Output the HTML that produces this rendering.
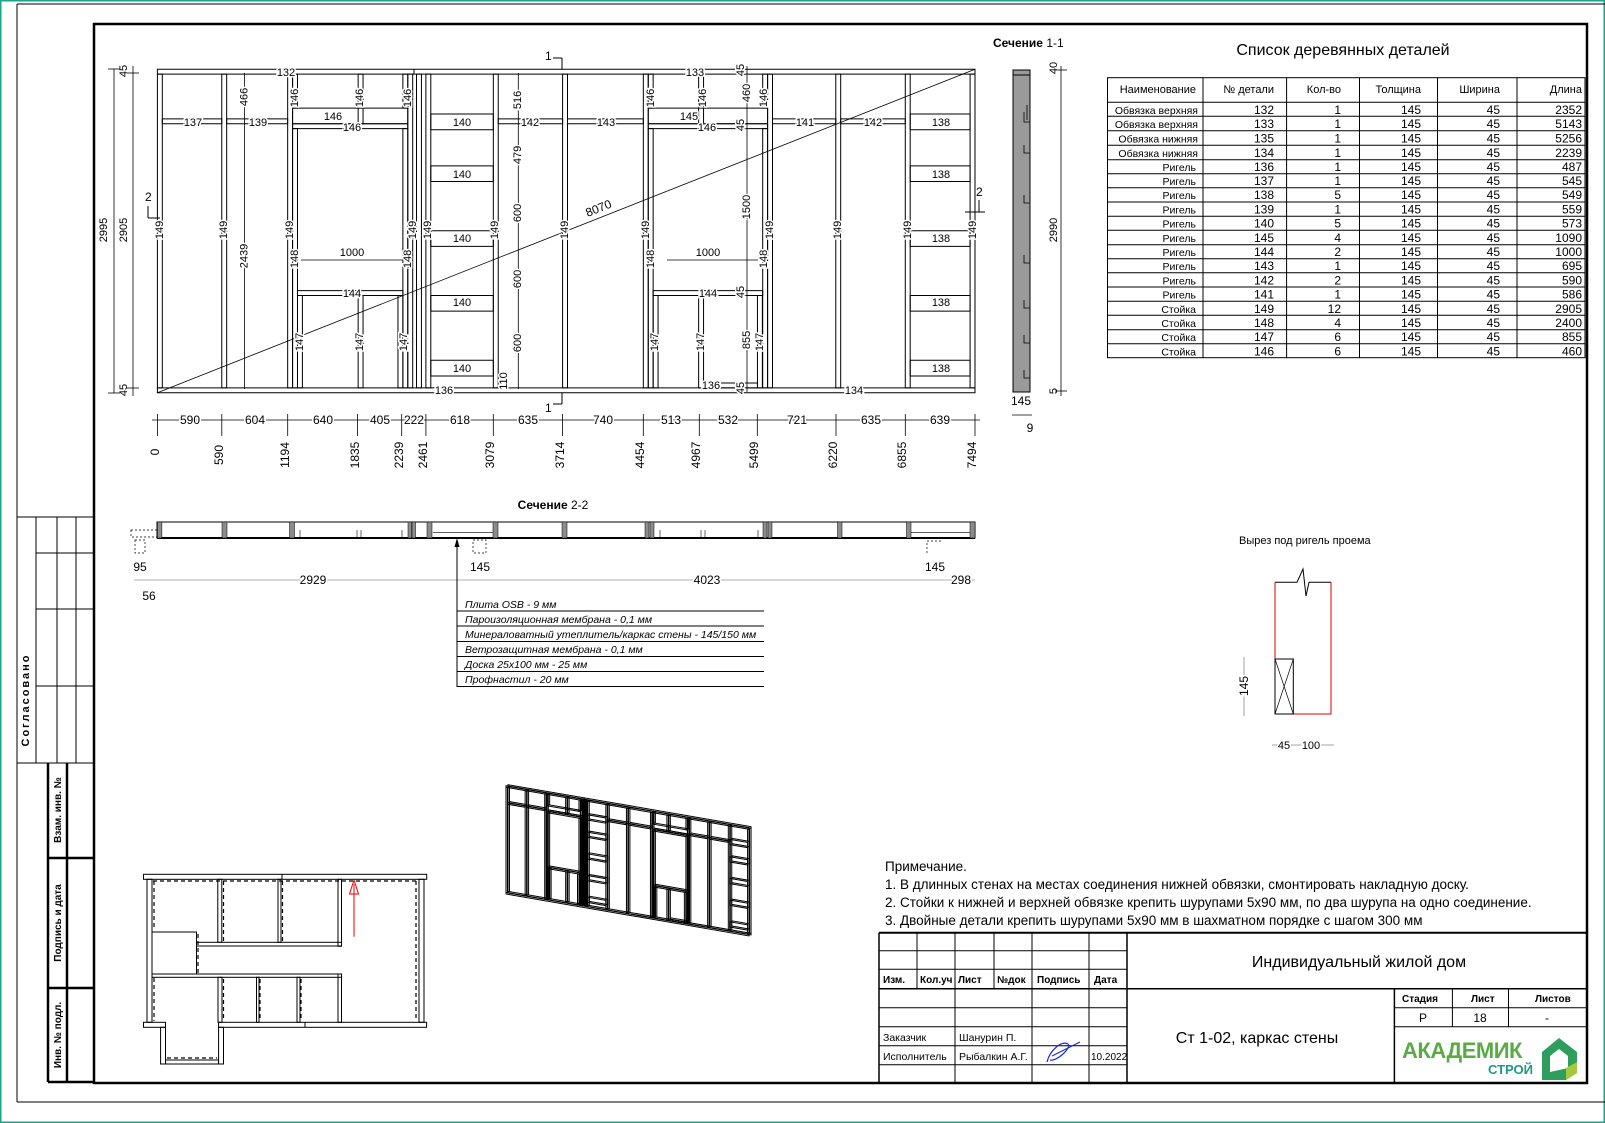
<!DOCTYPE html>
<html><head><meta charset="utf-8"><style>
html,body{margin:0;padding:0;background:#fff}
svg{display:block}
text{font-family:"Liberation Sans Narrow","Liberation Sans","DejaVu Sans",sans-serif;fill:#000}
.w text{font-size:11px}
.lbl{paint-order:stroke;stroke:#fff;stroke-width:3px}
</style></head><body>
<svg width="1605" height="1123" viewBox="0 0 1605 1123" xmlns="http://www.w3.org/2000/svg">
<defs>
<g id="wall" fill="none" stroke="#000" stroke-width="1" vector-effect="non-scaling-stroke">
<g vector-effect="non-scaling-stroke">
<rect x="0" y="0" width="7494" height="45" vector-effect="non-scaling-stroke"/>
<rect x="0" y="2950" width="7494" height="45" vector-effect="non-scaling-stroke"/>
<line x1="2352" y1="2950" x2="2352" y2="2995" vector-effect="non-scaling-stroke"/>
<rect x="0" y="45" width="45" height="2905" vector-effect="non-scaling-stroke"/>
<rect x="590" y="45" width="45" height="2905" vector-effect="non-scaling-stroke"/>
<rect x="1194" y="45" width="45" height="2905" vector-effect="non-scaling-stroke"/>
<rect x="2295" y="45" width="45" height="2905" vector-effect="non-scaling-stroke"/>
<rect x="2375" y="45" width="45" height="2905" vector-effect="non-scaling-stroke"/>
<rect x="2461" y="45" width="45" height="2905" vector-effect="non-scaling-stroke"/>
<rect x="3079" y="45" width="45" height="2905" vector-effect="non-scaling-stroke"/>
<rect x="3714" y="45" width="45" height="2905" vector-effect="non-scaling-stroke"/>
<rect x="4454" y="45" width="45" height="2905" vector-effect="non-scaling-stroke"/>
<rect x="5593" y="45" width="45" height="2905" vector-effect="non-scaling-stroke"/>
<rect x="6218" y="45" width="45" height="2905" vector-effect="non-scaling-stroke"/>
<rect x="6855" y="45" width="45" height="2905" vector-effect="non-scaling-stroke"/>
<rect x="7449" y="45" width="45" height="2905" vector-effect="non-scaling-stroke"/>
<rect x="1239" y="45" width="45" height="2400" vector-effect="non-scaling-stroke"/>
<rect x="2250" y="45" width="45" height="2400" vector-effect="non-scaling-stroke"/>
<rect x="4499" y="45" width="45" height="2400" vector-effect="non-scaling-stroke"/>
<rect x="5548" y="45" width="45" height="2400" vector-effect="non-scaling-stroke"/>
<rect x="1239" y="2445" width="1056" height="45" vector-effect="non-scaling-stroke"/>
<rect x="1239" y="2490" width="1056" height="145" vector-effect="non-scaling-stroke"/>
<rect x="4499" y="2445" width="1094" height="45" vector-effect="non-scaling-stroke"/>
<rect x="4499" y="2490" width="1094" height="145" vector-effect="non-scaling-stroke"/>
<rect x="1239" y="2635" width="45" height="315" vector-effect="non-scaling-stroke"/>
<rect x="1840" y="2490" width="45" height="460" vector-effect="non-scaling-stroke"/>
<rect x="2250" y="2635" width="45" height="315" vector-effect="non-scaling-stroke"/>
<rect x="4499" y="2635" width="45" height="315" vector-effect="non-scaling-stroke"/>
<rect x="4961" y="2490" width="45" height="460" vector-effect="non-scaling-stroke"/>
<rect x="5548" y="2635" width="45" height="315" vector-effect="non-scaling-stroke"/>
<rect x="1284" y="900" width="966" height="45" vector-effect="non-scaling-stroke"/>
<rect x="4544" y="900" width="1004" height="45" vector-effect="non-scaling-stroke"/>
<rect x="1284" y="45" width="45" height="855" vector-effect="non-scaling-stroke"/>
<rect x="1840" y="45" width="45" height="855" vector-effect="non-scaling-stroke"/>
<rect x="2205" y="45" width="45" height="855" vector-effect="non-scaling-stroke"/>
<rect x="4544" y="45" width="45" height="855" vector-effect="non-scaling-stroke"/>
<rect x="4961" y="45" width="45" height="855" vector-effect="non-scaling-stroke"/>
<rect x="5500" y="45" width="45" height="855" vector-effect="non-scaling-stroke"/>
<rect x="5013" y="45" width="487" height="45" vector-effect="non-scaling-stroke"/>
<rect x="45" y="2490" width="545" height="45" vector-effect="non-scaling-stroke"/>
<rect x="635" y="2490" width="559" height="45" vector-effect="non-scaling-stroke"/>
<rect x="3124" y="2490" width="590" height="45" vector-effect="non-scaling-stroke"/>
<rect x="3759" y="2490" width="695" height="45" vector-effect="non-scaling-stroke"/>
<rect x="5638" y="2490" width="580" height="45" vector-effect="non-scaling-stroke"/>
<rect x="6263" y="2490" width="592" height="45" vector-effect="non-scaling-stroke"/>
<rect x="2506" y="2435" width="573" height="145" vector-effect="non-scaling-stroke"/>
<rect x="2506" y="1955" width="573" height="145" vector-effect="non-scaling-stroke"/>
<rect x="2506" y="1355" width="573" height="145" vector-effect="non-scaling-stroke"/>
<rect x="2506" y="755" width="573" height="145" vector-effect="non-scaling-stroke"/>
<rect x="2506" y="155" width="573" height="145" vector-effect="non-scaling-stroke"/>
<rect x="6900" y="2435" width="549" height="145" vector-effect="non-scaling-stroke"/>
<rect x="6900" y="1955" width="549" height="145" vector-effect="non-scaling-stroke"/>
<rect x="6900" y="1355" width="549" height="145" vector-effect="non-scaling-stroke"/>
<rect x="6900" y="755" width="549" height="145" vector-effect="non-scaling-stroke"/>
<rect x="6900" y="155" width="549" height="145" vector-effect="non-scaling-stroke"/>
</g>
</g>
</defs>

<rect x="0.5" y="0.5" width="1604" height="1122" fill="none" stroke="#1aa58a" stroke-width="2"/>
<line x1="17" y1="4" x2="1605" y2="4" stroke="#000" stroke-width="1"/>
<line x1="17" y1="4" x2="17" y2="1102" stroke="#000" stroke-width="1"/>
<line x1="17" y1="1102" x2="1605" y2="1102" stroke="#000" stroke-width="1"/>
<rect x="94" y="24" width="1493" height="1059" fill="none" stroke="#000" stroke-width="2.5"/>

<g stroke="#000" fill="none">
<line x1="17" y1="517" x2="94" y2="517" stroke-width="1"/>
<line x1="17" y1="763" x2="94" y2="763" stroke-width="1"/>
<line x1="36" y1="517" x2="36" y2="763"/>
<line x1="57" y1="517" x2="57" y2="763"/>
<line x1="76" y1="517" x2="76" y2="763"/>
<line x1="36" y1="553" x2="94" y2="553"/>
<line x1="36" y1="609" x2="94" y2="609"/>
<line x1="36" y1="686" x2="94" y2="686"/>
<g stroke-width="2.5">
<line x1="48" y1="763" x2="48" y2="1082"/>
<line x1="67" y1="763" x2="67" y2="1082"/>
<line x1="48" y1="858" x2="94" y2="858"/>
<line x1="48" y1="988" x2="94" y2="988"/>
<line x1="48" y1="1082" x2="94" y2="1082"/>
</g>
</g>
<text transform="translate(29,700) rotate(-90)" text-anchor="middle" font-size="11" font-weight="bold" letter-spacing="2">Согласовано</text>
<text transform="translate(61,810) rotate(-90)" text-anchor="middle" font-size="10" font-weight="bold">Взам. инв. №</text>
<text transform="translate(61,923) rotate(-90)" text-anchor="middle" font-size="10" font-weight="bold">Подпись и дата</text>
<text transform="translate(61,1035) rotate(-90)" text-anchor="middle" font-size="10" font-weight="bold">Инв. № подл.</text>

<use href="#wall" transform="matrix(0.1091,0,0,-0.108,157.4,392.7)"/>
<line x1="157.4" y1="392.7" x2="975" y2="69.3" stroke="#000" stroke-width="0.8"/>
<text class="lbl" transform="translate(600,212) rotate(-22)" text-anchor="middle" font-size="12">8070</text>

<g class="w">
<g text-anchor="middle" dominant-baseline="central" class="lbl">
<text transform="translate(160,230) rotate(-90)" class="lbl">149</text>
<text transform="translate(224,230) rotate(-90)" class="lbl">149</text>
<text transform="translate(290,230) rotate(-90)" class="lbl">149</text>
<text transform="translate(413,230) rotate(-90)" class="lbl">149</text>
<text transform="translate(428,230) rotate(-90)" class="lbl">149</text>
<text transform="translate(495,230) rotate(-90)" class="lbl">149</text>
<text transform="translate(565,230) rotate(-90)" class="lbl">149</text>
<text transform="translate(646,230) rotate(-90)" class="lbl">149</text>
<text transform="translate(770,230) rotate(-90)" class="lbl">149</text>
<text transform="translate(838,230) rotate(-90)" class="lbl">149</text>
<text transform="translate(908,230) rotate(-90)" class="lbl">149</text>
<text transform="translate(973,230) rotate(-90)" class="lbl">149</text>
<text transform="translate(295,259) rotate(-90)" class="lbl">148</text>
<text transform="translate(408,259) rotate(-90)" class="lbl">148</text>
<text transform="translate(651,259) rotate(-90)" class="lbl">148</text>
<text transform="translate(764,259) rotate(-90)" class="lbl">148</text>
<text transform="translate(300,342) rotate(-90)" class="lbl">147</text>
<text transform="translate(360,342) rotate(-90)" class="lbl">147</text>
<text transform="translate(404,342) rotate(-90)" class="lbl">147</text>
<text transform="translate(655,342) rotate(-90)" class="lbl">147</text>
<text transform="translate(701,342) rotate(-90)" class="lbl">147</text>
<text transform="translate(760,342) rotate(-90)" class="lbl">147</text>
<text transform="translate(295,98) rotate(-90)" class="lbl">146</text>
<text transform="translate(360,98) rotate(-90)" class="lbl">146</text>
<text transform="translate(408,98) rotate(-90)" class="lbl">146</text>
<text transform="translate(651,98) rotate(-90)" class="lbl">146</text>
<text transform="translate(703,98) rotate(-90)" class="lbl">146</text>
<text transform="translate(764,98) rotate(-90)" class="lbl">146</text>
</g>
<g text-anchor="middle" class="lbl">
<text x="286" y="76">132</text><text x="695" y="76">133</text>
<text x="444" y="394">136</text><text x="854" y="394">134</text><text x="711" y="389">136</text>
<text x="193" y="126">137</text><text x="258" y="126">139</text>
<text x="333" y="120" font-size="10">146</text><text x="352" y="131">146</text>
<text x="689" y="120" font-size="10">145</text><text x="707" y="131">146</text>
<text x="530" y="126">142</text><text x="606" y="126">143</text>
<text x="805" y="126">141</text><text x="873" y="126">142</text>
<text x="462" y="126">140</text><text x="462" y="178">140</text><text x="462" y="242">140</text><text x="462" y="306">140</text><text x="462" y="372">140</text>
<text x="941" y="126">138</text><text x="941" y="178">138</text><text x="941" y="242">138</text><text x="941" y="306">138</text><text x="941" y="372">138</text>
<text x="352" y="256" font-size="13">1000</text><text x="708" y="256" font-size="13">1000</text>
<text x="352" y="297">144</text><text x="708" y="297">144</text>
</g>
<line x1="301" y1="260" x2="403" y2="260" stroke="#000" stroke-width="0.8"/>
<line x1="667" y1="260" x2="758" y2="260" stroke="#000" stroke-width="0.8"/>
</g>

<g stroke="#000" stroke-width="0.8">
<line x1="244.5" y1="73" x2="244.5" y2="389"/>
<line x1="518.3" y1="73" x2="518.3" y2="389"/>
<line x1="747" y1="66" x2="747" y2="392"/>
<line x1="114" y1="69" x2="114" y2="393"/>
<line x1="133" y1="66" x2="133" y2="396"/>
<line x1="108" y1="69" x2="120" y2="69"/><line x1="108" y1="393" x2="120" y2="393"/>
<line x1="127" y1="73" x2="139" y2="73"/><line x1="127" y1="388" x2="139" y2="388"/>
<line x1="1061" y1="66" x2="1061" y2="396"/>
<line x1="1055" y1="70" x2="1067" y2="70"/><line x1="1055" y1="391" x2="1067" y2="391"/>
</g>
<g class="w" text-anchor="middle" dominant-baseline="central">
<text class="lbl" transform="translate(244.5,97) rotate(-90)">466</text>
<text class="lbl" transform="translate(244.5,256) rotate(-90)" font-size="13">2439</text>
<text class="lbl" transform="translate(518,100) rotate(-90)">516</text>
<text class="lbl" transform="translate(518,155) rotate(-90)">479</text>
<text class="lbl" transform="translate(518,213) rotate(-90)">600</text>
<text class="lbl" transform="translate(518,279) rotate(-90)">600</text>
<text class="lbl" transform="translate(518,343) rotate(-90)">600</text>
<text class="lbl" transform="translate(504,381) rotate(-90)">110</text>
<text class="lbl" transform="translate(741,70) rotate(-90)">45</text>
<text class="lbl" transform="translate(747,93) rotate(-90)">460</text>
<text class="lbl" transform="translate(741,125) rotate(-90)">45</text>
<text class="lbl" transform="translate(747,207) rotate(-90)">1500</text>
<text class="lbl" transform="translate(741,292) rotate(-90)">45</text>
<text class="lbl" transform="translate(747,340) rotate(-90)">855</text>
<text class="lbl" transform="translate(741,388) rotate(-90)">45</text>
<text transform="translate(104,230) rotate(-90)" font-size="13">2995</text>
<text transform="translate(124,230) rotate(-90)" font-size="13">2905</text>
<text transform="translate(124,71) rotate(-90)" font-size="12">45</text>
<text transform="translate(124,390) rotate(-90)" font-size="12">45</text>
<text class="lbl" transform="translate(1054,230) rotate(-90)" font-size="13">2990</text>
<text transform="translate(1054,68) rotate(-90)">40</text>
<text transform="translate(1054,391) rotate(-90)">5</text>
</g>

<line x1="152" y1="420" x2="980" y2="420" stroke="#000" stroke-width="0.8"/>
<g stroke="#000" stroke-width="0.8">
<line x1="157.4" y1="414" x2="157.4" y2="436"/><line x1="221.8" y1="414" x2="221.8" y2="436"/>
<line x1="287.7" y1="414" x2="287.7" y2="436"/><line x1="357.6" y1="414" x2="357.6" y2="436"/>
<line x1="401.7" y1="414" x2="401.7" y2="436"/><line x1="425.9" y1="414" x2="425.9" y2="436"/>
<line x1="493.3" y1="414" x2="493.3" y2="436"/><line x1="562.6" y1="414" x2="562.6" y2="436"/>
<line x1="643.3" y1="414" x2="643.3" y2="436"/><line x1="699.3" y1="414" x2="699.3" y2="436"/>
<line x1="757.3" y1="414" x2="757.3" y2="436"/><line x1="836" y1="414" x2="836" y2="436"/>
<line x1="905.3" y1="414" x2="905.3" y2="436"/><line x1="975" y1="414" x2="975" y2="436"/>
</g>
<g font-size="12" text-anchor="middle" class="lbl">
<text x="190" y="424" class="lbl">590</text><text x="255" y="424" class="lbl">604</text><text x="323" y="424" class="lbl">640</text>
<text x="380" y="424" class="lbl">405</text><text x="414" y="424" class="lbl">222</text><text x="460" y="424" class="lbl">618</text>
<text x="528" y="424" class="lbl">635</text><text x="603" y="424" class="lbl">740</text><text x="671" y="424" class="lbl">513</text>
<text x="728" y="424" class="lbl">532</text><text x="797" y="424" class="lbl">721</text><text x="871" y="424" class="lbl">635</text>
<text x="940" y="424" class="lbl">639</text>
</g>
<g font-size="12" text-anchor="middle" dominant-baseline="central">
<text transform="translate(155,452) rotate(-90)">0</text>
<text transform="translate(219,455) rotate(-90)">590</text>
<text transform="translate(285,455) rotate(-90)">1194</text>
<text transform="translate(355,455) rotate(-90)">1835</text>
<text transform="translate(399,455) rotate(-90)">2239</text>
<text transform="translate(423,455) rotate(-90)">2461</text>
<text transform="translate(490,455) rotate(-90)">3079</text>
<text transform="translate(560,455) rotate(-90)">3714</text>
<text transform="translate(640,455) rotate(-90)">4454</text>
<text transform="translate(696,455) rotate(-90)">4967</text>
<text transform="translate(754,455) rotate(-90)">5499</text>
<text transform="translate(833,455) rotate(-90)">6220</text>
<text transform="translate(902,455) rotate(-90)">6855</text>
<text transform="translate(972,455) rotate(-90)">7494</text>
</g>

<g stroke="#000" stroke-width="1" fill="#000">
<line x1="562" y1="58" x2="562" y2="69"/><line x1="553" y1="58" x2="562" y2="58"/>
<line x1="562" y1="393" x2="562" y2="404"/><line x1="553" y1="404" x2="562" y2="404"/>
<line x1="148" y1="218" x2="160" y2="218"/><line x1="148" y1="206" x2="148" y2="218"/>
<line x1="965" y1="212" x2="985" y2="212"/><line x1="979" y1="200" x2="979" y2="212"/>
</g>
<text x="545" y="60" font-size="12">1</text>
<text x="545" y="412" font-size="12">1</text>
<text x="145" y="201" font-size="12">2</text>
<text x="976" y="196" font-size="12">2</text>

<text x="993" y="47" font-size="12" font-weight="bold">Сечение <tspan font-weight="normal">1-1</tspan></text>
<rect x="1013" y="70" width="17" height="322" fill="#9a9a9a" stroke="#000" stroke-width="1"/>
<line x1="1013" y1="75" x2="1030" y2="75" stroke="#000"/>
<g stroke="#000" stroke-width="0.8" fill="none">
<path d="M1024 112 v10 h6 M1027 105 v15 M1024 145 v8 h6 M1024 195 v8 h6 M1024 255 v8 h6 M1024 300 v8 h6 M1024 335 v8 h6 M1024 370 v8 h6"/>
</g>
<text x="1021" y="405" font-size="12" text-anchor="middle">145</text>
<line x1="1012" y1="415" x2="1032" y2="415" stroke="#000" stroke-width="0.8"/>
<text x="1030" y="432" font-size="12" text-anchor="middle">9</text>

<text x="553" y="509" font-size="12" font-weight="bold" text-anchor="middle">Сечение <tspan font-weight="normal">2-2</tspan></text>
<rect x="157" y="522" width="818" height="16" fill="none" stroke="#000" stroke-width="1"/>
<line x1="157" y1="538" x2="975" y2="538" stroke="#000" stroke-width="2"/>
<g fill="#8c8c8c" stroke="#000" stroke-width="0.5">
<rect x="157.4" y="522" width="4.5" height="16"/><rect x="222" y="522" width="5" height="16"/>
<rect x="289.5" y="522" width="5" height="16"/><rect x="408" y="522" width="3.5" height="16"/><rect x="412" y="522" width="3.5" height="16"/>
<rect x="427" y="522" width="5" height="16"/><rect x="493" y="522" width="5" height="16"/>
<rect x="562" y="522" width="5" height="16"/><rect x="645" y="522" width="4" height="16"/><rect x="650" y="522" width="4" height="16"/>
<rect x="763" y="522" width="4" height="16"/><rect x="768" y="522" width="4" height="16"/>
<rect x="837.5" y="522" width="4.5" height="16"/><rect x="906.5" y="522" width="4.5" height="16"/><rect x="970" y="522" width="5" height="16"/>
</g>
<g stroke="#000" stroke-width="0.6">
<line x1="433" y1="532.7" x2="493" y2="532.7"/><line x1="911" y1="532.7" x2="970" y2="532.7"/>
<line x1="300" y1="530" x2="300" y2="538"/><line x1="357" y1="530" x2="357" y2="538"/><line x1="361" y1="530" x2="361" y2="538"/><line x1="402" y1="530" x2="402" y2="538"/>
<line x1="660" y1="530" x2="660" y2="538"/><line x1="701" y1="530" x2="701" y2="538"/><line x1="705" y1="530" x2="705" y2="538"/><line x1="758" y1="530" x2="758" y2="538"/>
</g>
<g fill="none" stroke="#000" stroke-width="0.7" stroke-dasharray="2,2">
<rect x="135" y="540" width="10" height="13"/><rect x="131" y="530" width="26" height="7"/>
<rect x="473" y="540" width="13" height="13"/>
<path d="M927 553 v-12 h16"/>
</g>
<text x="140" y="571" font-size="12" text-anchor="middle">95</text>
<text x="480" y="571" font-size="12" text-anchor="middle">145</text>
<text x="935" y="571" font-size="12" text-anchor="middle">145</text>
<line x1="134" y1="580" x2="975" y2="580" stroke="#999" stroke-width="0.8"/>
<g font-size="12" text-anchor="middle" class="lbl">
<text x="313" y="584" class="lbl">2929</text><text x="707" y="584" class="lbl">4023</text><text x="961" y="584" class="lbl">298</text>
</g>
<text x="149" y="600" font-size="12" text-anchor="middle">56</text>
<line x1="457" y1="540" x2="457" y2="687" stroke="#000" stroke-width="1"/>
<path d="M457 538 l-2.5 9 h5 z" fill="#000"/>
<g stroke="#000" stroke-width="1">
<line x1="457" y1="611" x2="764" y2="611"/><line x1="457" y1="626" x2="764" y2="626"/>
<line x1="457" y1="641.5" x2="764" y2="641.5"/><line x1="457" y1="656.5" x2="764" y2="656.5"/>
<line x1="457" y1="671.5" x2="764" y2="671.5"/><line x1="457" y1="686.5" x2="764" y2="686.5"/>
</g>
<g font-size="10.5" font-style="italic">
<text x="465" y="608">Плита OSB -  9 мм</text>
<text x="465" y="623">Пароизоляционная мембрана - 0,1 мм</text>
<text x="465" y="638">Минераловатный утеплитель/каркас стены -  145/150 мм</text>
<text x="465" y="653">Ветрозащитная мембрана - 0,1 мм</text>
<text x="465" y="668">Доска 25х100 мм - 25 мм</text>
<text x="465" y="683">Профнастил - 20 мм</text>
</g>

<text x="1343" y="55" font-size="16" text-anchor="middle">Список деревянных деталей</text>
<g stroke="#000" stroke-width="1" fill="none">
<rect x="1107.5" y="77.7" width="477.5" height="280"/>
<line x1="1203" y1="77.7" x2="1203" y2="357.7"/><line x1="1286.6" y1="77.7" x2="1286.6" y2="357.7"/>
<line x1="1359.5" y1="77.7" x2="1359.5" y2="357.7"/><line x1="1437.5" y1="77.7" x2="1437.5" y2="357.7"/>
<line x1="1517" y1="77.7" x2="1517" y2="357.7"/>
<path d="M1107.5 102.3H1585M1107.5 116.3H1585M1107.5 130.7H1585M1107.5 145.3H1585M1107.5 159.7H1585M1107.5 173.7H1585M1107.5 187.7H1585M1107.5 202H1585M1107.5 216.3H1585M1107.5 230.3H1585M1107.5 244.7H1585M1107.5 258.7H1585M1107.5 272.7H1585M1107.5 287H1585M1107.5 301.3H1585M1107.5 315.3H1585M1107.5 329.7H1585M1107.5 343.7H1585"/>
</g>
<g font-size="11" text-anchor="end">
<text x="1196" y="93">Наименование</text><text x="1274" y="93">№ детали</text><text x="1341" y="93">Кол-во</text>
<text x="1421" y="93">Толщина</text><text x="1500" y="93">Ширина</text><text x="1582" y="93">Длина</text>
</g>
<g font-size="10.5" text-anchor="end">
<text x="1198" y="114">Обвязка верхняя</text><text x="1198" y="128">Обвязка верхняя</text><text x="1198" y="142.5">Обвязка нижняя</text><text x="1198" y="157">Обвязка нижняя</text>
<text x="1196" y="171">Ригель</text><text x="1196" y="185">Ригель</text><text x="1196" y="199">Ригель</text><text x="1196" y="213.5">Ригель</text><text x="1196" y="227.5">Ригель</text><text x="1196" y="242">Ригель</text><text x="1196" y="256">Ригель</text><text x="1196" y="270">Ригель</text><text x="1196" y="284.5">Ригель</text><text x="1196" y="298.5">Ригель</text>
<text x="1196" y="313">Стойка</text><text x="1196" y="327">Стойка</text><text x="1196" y="341">Стойка</text><text x="1196" y="355.5">Стойка</text>
</g>
<g font-size="12" text-anchor="end">
<text x="1274" y="114">132</text><text x="1274" y="128">133</text><text x="1274" y="142.5">135</text><text x="1274" y="157">134</text><text x="1274" y="171">136</text><text x="1274" y="185">137</text><text x="1274" y="199">138</text><text x="1274" y="213.5">139</text><text x="1274" y="227.5">140</text><text x="1274" y="242">145</text><text x="1274" y="256">144</text><text x="1274" y="270">143</text><text x="1274" y="284.5">142</text><text x="1274" y="298.5">141</text><text x="1274" y="313">149</text><text x="1274" y="327">148</text><text x="1274" y="341">147</text><text x="1274" y="355.5">146</text>
<text x="1341" y="114">1</text><text x="1341" y="128">1</text><text x="1341" y="142.5">1</text><text x="1341" y="157">1</text><text x="1341" y="171">1</text><text x="1341" y="185">1</text><text x="1341" y="199">5</text><text x="1341" y="213.5">1</text><text x="1341" y="227.5">5</text><text x="1341" y="242">4</text><text x="1341" y="256">2</text><text x="1341" y="270">1</text><text x="1341" y="284.5">2</text><text x="1341" y="298.5">1</text><text x="1341" y="313">12</text><text x="1341" y="327">4</text><text x="1341" y="341">6</text><text x="1341" y="355.5">6</text>
</g>
<g font-size="12" text-anchor="end">
<text x="1421" y="114">145</text><text x="1421" y="128">145</text><text x="1421" y="142.5">145</text><text x="1421" y="157">145</text><text x="1421" y="171">145</text><text x="1421" y="185">145</text><text x="1421" y="199">145</text><text x="1421" y="213.5">145</text><text x="1421" y="227.5">145</text><text x="1421" y="242">145</text><text x="1421" y="256">145</text><text x="1421" y="270">145</text><text x="1421" y="284.5">145</text><text x="1421" y="298.5">145</text><text x="1421" y="313">145</text><text x="1421" y="327">145</text><text x="1421" y="341">145</text><text x="1421" y="355.5">145</text>
<text x="1500" y="114">45</text><text x="1500" y="128">45</text><text x="1500" y="142.5">45</text><text x="1500" y="157">45</text><text x="1500" y="171">45</text><text x="1500" y="185">45</text><text x="1500" y="199">45</text><text x="1500" y="213.5">45</text><text x="1500" y="227.5">45</text><text x="1500" y="242">45</text><text x="1500" y="256">45</text><text x="1500" y="270">45</text><text x="1500" y="284.5">45</text><text x="1500" y="298.5">45</text><text x="1500" y="313">45</text><text x="1500" y="327">45</text><text x="1500" y="341">45</text><text x="1500" y="355.5">45</text>
<text x="1582" y="114">2352</text><text x="1582" y="128">5143</text><text x="1582" y="142.5">5256</text><text x="1582" y="157">2239</text><text x="1582" y="171">487</text><text x="1582" y="185">545</text><text x="1582" y="199">549</text><text x="1582" y="213.5">559</text><text x="1582" y="227.5">573</text><text x="1582" y="242">1090</text><text x="1582" y="256">1000</text><text x="1582" y="270">695</text><text x="1582" y="284.5">590</text><text x="1582" y="298.5">586</text><text x="1582" y="313">2905</text><text x="1582" y="327">2400</text><text x="1582" y="341">855</text><text x="1582" y="355.5">460</text>
</g>

<text x="1239" y="544" font-size="11">Вырез под ригель проема</text>
<path d="M1275 582.3 H1297 L1303 569 L1306 596 L1309 582.3 H1331" fill="none" stroke="#000" stroke-width="1"/>
<path d="M1275 582.3 V714 H1331 V582.3" fill="none" stroke="#d00" stroke-width="1"/>
<rect x="1275" y="659" width="18.3" height="55" fill="none" stroke="#000" stroke-width="1"/>
<path d="M1275 659 L1293.3 714 M1293.3 659 L1275 714" stroke="#000" stroke-width="0.7"/>
<line x1="1244" y1="657" x2="1244" y2="716" stroke="#888" stroke-width="0.8"/>
<text transform="translate(1244,686) rotate(-90)" font-size="12" text-anchor="middle" dominant-baseline="central" class="lbl">145</text>
<line x1="1272" y1="745" x2="1334" y2="745" stroke="#888" stroke-width="0.8"/>
<text x="1284" y="749" font-size="11" text-anchor="middle" class="lbl">45</text>
<text x="1311" y="749" font-size="11" text-anchor="middle" class="lbl">100</text>

<g fill="none" stroke="#000" stroke-width="1">
<rect x="143.5" y="874.3" width="283.2" height="5"/>
<line x1="282" y1="874.3" x2="282" y2="879.3"/>
<rect x="147" y="879.3" width="5" height="143"/>
<rect x="419" y="879.3" width="5" height="143"/>
<rect x="217.8" y="879.3" width="4" height="63"/>
<rect x="278" y="879.3" width="3" height="63"/>
<rect x="338" y="879.3" width="3.5" height="67"/>
<rect x="196.5" y="942.3" width="145" height="3.7"/>
<rect x="152" y="932" width="44.5" height="42"/>
<rect x="152" y="974" width="189.5" height="3.3"/>
<rect x="338" y="974" width="3.5" height="48.3"/>
<rect x="218" y="977.3" width="4" height="45"/>
<rect x="256.5" y="977.3" width="2.5" height="45"/>
<rect x="297" y="977.3" width="3" height="45"/>
<rect x="143.5" y="1022.3" width="22" height="5"/>
<rect x="218.6" y="1022.3" width="208" height="5"/>
<line x1="305" y1="1022.3" x2="305" y2="1027.3"/>
<rect x="160.6" y="1027.3" width="4.9" height="36.7"/>
<rect x="218.6" y="1027.3" width="4.9" height="36.7"/>
<rect x="165.5" y="1060" width="53" height="4"/>
</g>
<g fill="none" stroke="#000" stroke-width="1.2" stroke-dasharray="4,3">
<line x1="153" y1="881" x2="417" y2="881"/>
<line x1="154" y1="881" x2="154" y2="930"/><line x1="154" y1="978" x2="154" y2="1021"/>
<line x1="416" y1="881" x2="416" y2="1021"/>
<line x1="223.5" y1="881" x2="223.5" y2="941"/><line x1="282.5" y1="881" x2="282.5" y2="941"/>
<line x1="198" y1="934" x2="198" y2="973"/>
<line x1="223.5" y1="979" x2="223.5" y2="1021"/><line x1="260" y1="979" x2="260" y2="1021"/><line x1="301" y1="979" x2="301" y2="1021"/>
<line x1="167" y1="1058" x2="217" y2="1058"/>
</g>
<line x1="354" y1="936.7" x2="354" y2="884" stroke="#e00" stroke-width="1"/>
<path d="M354 880 L349.5 894 H358.5 Z" fill="none" stroke="#e00" stroke-width="1"/>

<use href="#wall" transform="matrix(0.03243,0.0056,0,-0.03616,506,894)"/>
<use href="#wall" transform="matrix(0.03243,0.0056,0,-0.03616,508,893)"/>

<g font-size="13.5">
<text x="885" y="871">Примечание.</text>
<text x="885" y="889">1. В длинных стенах на местах соединения нижней обвязки, смонтировать накладную доску.</text>
<text x="885" y="907">2. Стойки к нижней и верхней обвязке крепить шурупами 5х90 мм, по два шурупа на одно соединение.</text>
<text x="885" y="925">3. Двойные детали крепить шурупами 5х90 мм в шахматном порядке с шагом 300 мм</text>
</g>

<g stroke="#000" fill="none">
<line x1="879" y1="932.7" x2="1587" y2="932.7" stroke-width="2"/>
<line x1="879" y1="932.7" x2="879" y2="1083" stroke-width="1.5"/>
<line x1="1127" y1="932.7" x2="1127" y2="1083" stroke-width="1.5"/>
<line x1="1127" y1="988.7" x2="1587" y2="988.7" stroke-width="1.5"/>
<line x1="1394.4" y1="988.7" x2="1394.4" y2="1083" stroke-width="1.5"/>
<line x1="1452.4" y1="988.7" x2="1452.4" y2="1026.7"/>
<line x1="1508.5" y1="988.7" x2="1508.5" y2="1026.7"/>
<line x1="1394.4" y1="1007.7" x2="1587" y2="1007.7"/>
<line x1="1394.4" y1="1026.7" x2="1587" y2="1026.7"/>
<line x1="917" y1="932.7" x2="917" y2="988.7"/>
<line x1="955" y1="932.7" x2="955" y2="1083"/>
<line x1="994" y1="932.7" x2="994" y2="988.7"/>
<line x1="1032" y1="932.7" x2="1032" y2="1083"/>
<line x1="1089" y1="932.7" x2="1089" y2="1083"/>
<line x1="879" y1="950.7" x2="1127" y2="950.7"/>
<line x1="879" y1="969.3" x2="1127" y2="969.3"/>
<line x1="879" y1="988.7" x2="1127" y2="988.7" stroke-width="1.5"/>
<line x1="879" y1="1007.7" x2="1127" y2="1007.7"/>
<line x1="879" y1="1026.7" x2="1127" y2="1026.7"/>
<line x1="879" y1="1045.7" x2="1127" y2="1045.7"/>
<line x1="879" y1="1064.7" x2="1127" y2="1064.7"/>
</g>
<g font-size="10" font-weight="bold">
<text x="883" y="983">Изм.</text><text x="920" y="983">Кол.уч</text><text x="958" y="983">Лист</text><text x="997" y="983">№док</text><text x="1037" y="983">Подпись</text><text x="1094" y="983">Дата</text>
<text x="1402" y="1002">Стадия</text><text x="1471" y="1002">Лист</text><text x="1535" y="1002">Листов</text>
</g>
<g font-size="12" text-anchor="middle">
<text x="1423" y="1022">Р</text><text x="1480" y="1022">18</text><text x="1547" y="1022">-</text>
</g>
<g font-size="10.5">
<text x="883" y="1041">Заказчик</text><text x="959" y="1041">Шанурин П.</text>
<text x="883" y="1060">Исполнитель</text><text x="959" y="1060">Рыбалкин А.Г.</text>
<text x="1091" y="1060" font-size="10">10.2022</text>
</g>
<path d="M1047 1062 C1050 1050 1062 1040 1068 1044 C1072 1048 1056 1062 1050 1060 M1052 1056 L1080 1042" fill="none" stroke="#1a2fd0" stroke-width="1.2"/>
<text x="1359" y="967" font-size="16" text-anchor="middle">Индивидуальный жилой дом</text>
<text x="1257" y="1043" font-size="16" text-anchor="middle">Ст 1-02, каркас стены</text>
<text x="1402" y="1058" font-size="22" font-weight="bold" style="fill:#5aab46" letter-spacing="-0.5">АКАДЕМИК</text>
<text x="1533" y="1074" font-size="13" font-weight="bold" text-anchor="end" style="fill:#1b9a86">СТРОЙ</text>
<path d="M1542 1080 V1052 L1559 1038 L1577 1052 V1073 L1566 1080 Z" fill="#2e9e5e"/>
<path d="M1550 1072 V1056 L1559 1049 L1568 1056 V1068 Z" fill="#fff"/>
<path d="M1566 1080 L1577 1073 V1062 L1566 1068 Z" fill="#a6c83c"/>
</svg>
</body></html>
